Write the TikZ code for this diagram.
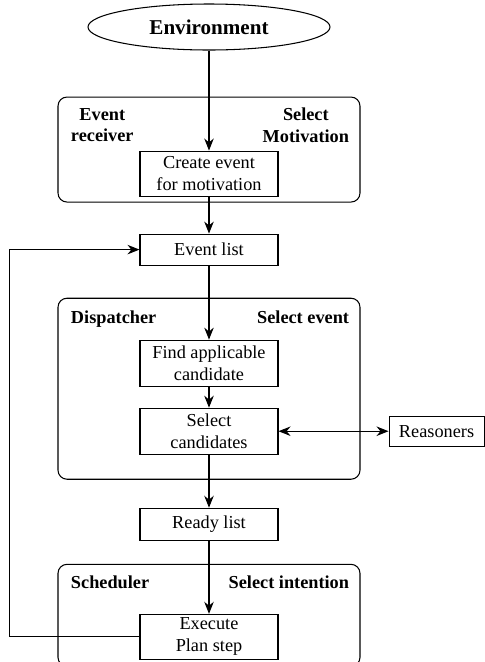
\documentclass[tikz,border=0pt]{standalone}
\usepackage{fontspec}
\setmainfont{Liberation Serif}
\usetikzlibrary{shapes,arrows.meta,positioning}

\newcommand{\diagfont}{\fontsize{10.4}{12.4}\selectfont}

\tikzset{
  block/.style={draw, minimum width=2.76cm, inner sep=1pt, align=center},
  panel/.style={draw, rounded corners=0.18cm, minimum width=6.04cm},
  tag/.style={font=\diagfont\bfseries, inner sep=0pt, align=center},
}

\begin{document}
\begin{tikzpicture}[>={Stealth[length=2.4mm,width=1.9mm]}, line width=0.6pt,
    font=\diagfont]
\useasboundingbox (0,0) rectangle (9.7,-13.24);

\node[draw, ellipse, minimum width=4.84cm, minimum height=0.92cm,
    font=\fontsize{12}{14}\selectfont\bfseries] (env) at (4.18,-0.54) {Environment};
\node[block, minimum height=0.9cm, below=2cm of env] (create) {Create event\\for motivation};
\node[block, minimum height=0.62cm, below=0.74cm of create] (evlist) {Event list};
\node[block, minimum height=0.92cm, below=1.48cm of evlist] (find) {Find applicable\\candidate};
\node[block, minimum height=0.92cm, below=0.42cm of find] (select) {Select\\candidates};
\node[block, minimum height=0.64cm, below=1.06cm of select] (ready) {Ready list};
\node[block, minimum height=0.9cm, below=1.46cm of ready] (exec) {Execute\\Plan step};
\node[draw, minimum width=1.9cm, minimum height=0.6cm,
    right=2.2cm of select] (reas) {Reasoners};

% the three stages
\node[panel, minimum height=2.1cm, anchor=south] (recv) at ([yshift=-0.12cm]create.south) {};
\node[panel, minimum height=3.62cm, anchor=south] (disp) at ([yshift=-0.5cm]select.south) {};
\node[panel, minimum height=2.04cm, anchor=south] (sched) at ([yshift=-0.14cm]exec.south) {};

\node[tag, anchor=north west] (recvname) at ([shift={(0.26cm,-0.22cm)}]recv.north west) {Event\\receiver};
\node[tag, anchor=north east] (recvtask) at ([shift={(-0.22cm,-0.22cm)}]recv.north east) {Select\\Motivation};
\node[tag, anchor=north west] (dispname) at ([shift={(0.26cm,-0.26cm)}]disp.north west) {Dispatcher};
\node[tag, anchor=north east] (disptask) at ([shift={(-0.22cm,-0.26cm)}]disp.north east) {Select event};
\node[tag, anchor=north west] (schedname) at ([shift={(0.26cm,-0.22cm)}]sched.north west) {Scheduler};
\node[tag, anchor=north east] (schedtask) at ([shift={(-0.22cm,-0.22cm)}]sched.north east) {Select intention};

\draw[->] (env) -- (create);
\draw[->] (create) -- (evlist);
\draw[->] (evlist) -- (find);
\draw[->] (find) -- (select);
\draw[->] (select) -- (ready);
\draw[->] (ready) -- (exec);
\draw[<->] (select) -- (reas);
\draw[->] (exec.west) -- ++(-2.6,0) |- (evlist.west);
\end{tikzpicture}
\end{document}
